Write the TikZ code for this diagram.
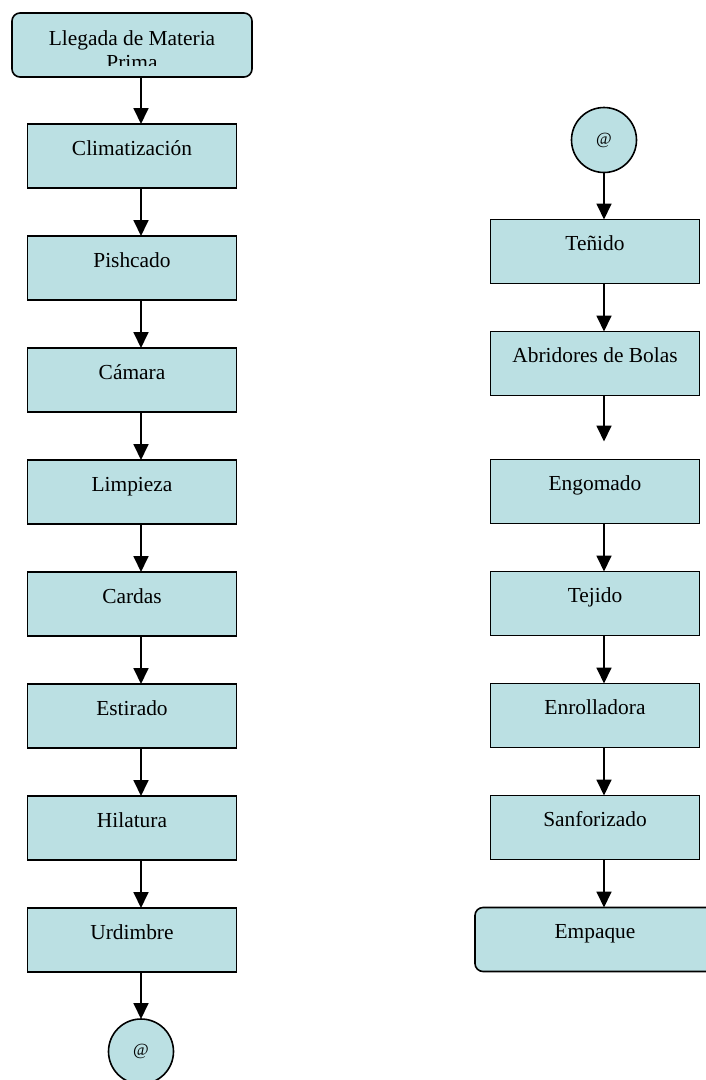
\documentclass[tikz,border=0pt]{standalone}
\usepackage{fontspec}
\setmainfont{Liberation Serif}
\usetikzlibrary{arrows.meta,positioning}
\definecolor{boxfill}{RGB}{187,224,227}
\tikzset{
  stage/.style={rectangle,draw,line width=1.6pt,fill=boxfill,outer sep=0pt,
    minimum width=209pt,minimum height=64pt,inner xsep=2pt,inner ysep=0pt,
    text height=31pt,text depth=33pt,font=\fontsize{21.4}{24}\selectfont},
  terminal/.style={stage,rounded corners=8pt,minimum width=240pt},
  connector/.style={circle,draw,line width=1.6pt,fill=boxfill,outer sep=0pt,
    minimum size=65pt,inner sep=0pt,font=\fontsize{17}{20}\selectfont},
  flow/.style={line width=1.8pt,-{Triangle[width=15pt,length=16pt]}}
}
\begin{document}
\begin{tikzpicture}[x=1pt,y=1pt]
  \useasboundingbox (0,0) rectangle (705,-1080);

  % left column
  \node[terminal] (llegada) at (132,-45) {};
  \begin{scope}
    \clip ([xshift=-10pt]llegada.north west) rectangle ([yshift=12pt]llegada.south east);
    \node[font=\fontsize{21.4}{24}\selectfont,align=center,anchor=base,inner sep=0pt]
      (llegadatxt) at ([yshift=-56pt]llegada.north) {Llegada de Materia\\Prima};
  \end{scope}
  \node[stage] (clima) [below=47pt of llegada] {Climatización};
  \node[stage] (pishcado) [below=48pt of clima] {Pishcado};
  \node[stage] (camara) [below=48pt of pishcado] {Cámara};
  \node[stage] (limpieza) [below=48pt of camara] {Limpieza};
  \node[stage] (cardas) [below=48pt of limpieza] {Cardas};
  \node[stage] (estirado) [below=48pt of cardas] {Estirado};
  \node[stage] (hilatura) [below=48pt of estirado] {Hilatura};
  \node[stage] (urdimbre) [below=48pt of hilatura] {Urdimbre};
  \node[connector] (conA) [below=47pt of urdimbre,xshift=9pt] {@};

  % right column
  \node[connector] (conB) at (604,-140) {@};
  \node[stage] (tenido) [below=47pt of conB,xshift=-9pt] {Teñido};
  \node[stage] (abridores) [below=48pt of tenido] {Abridores de Bolas};
  \node[stage] (engomado) [below=64pt of abridores] {Engomado};
  \node[stage] (tejido) [below=48pt of engomado] {Tejido};
  \node[stage] (enrolladora) [below=48pt of tejido] {Enrolladora};
  \node[stage] (sanforizado) [below=48pt of enrolladora] {Sanforizado};
  \node[terminal] (empaque) [below=48pt of sanforizado] {Empaque};

  \path[flow]
  ([xshift=9pt]llegada.south) edge ([xshift=9pt]clima.north)
  ([xshift=9pt]clima.south) edge ([xshift=9pt]pishcado.north)
  ([xshift=9pt]pishcado.south) edge ([xshift=9pt]camara.north)
  ([xshift=9pt]camara.south) edge ([xshift=9pt]limpieza.north)
  ([xshift=9pt]limpieza.south) edge ([xshift=9pt]cardas.north)
  ([xshift=9pt]cardas.south) edge ([xshift=9pt]estirado.north)
  ([xshift=9pt]estirado.south) edge ([xshift=9pt]hilatura.north)
  ([xshift=9pt]hilatura.south) edge ([xshift=9pt]urdimbre.north)
  ([xshift=9pt]urdimbre.south) edge (conA)
  (conB) edge ([xshift=9pt]tenido.north)
  ([xshift=9pt]tenido.south) edge ([xshift=9pt]abridores.north)
  ([xshift=9pt]abridores.south) edge[shorten >=18pt] ([xshift=9pt]engomado.north)
  ([xshift=9pt]engomado.south) edge ([xshift=9pt]tejido.north)
  ([xshift=9pt]tejido.south) edge ([xshift=9pt]enrolladora.north)
  ([xshift=9pt]enrolladora.south) edge ([xshift=9pt]sanforizado.north)
  ([xshift=9pt]sanforizado.south) edge ([xshift=9pt]empaque.north)
  ;
\end{tikzpicture}
\end{document}
